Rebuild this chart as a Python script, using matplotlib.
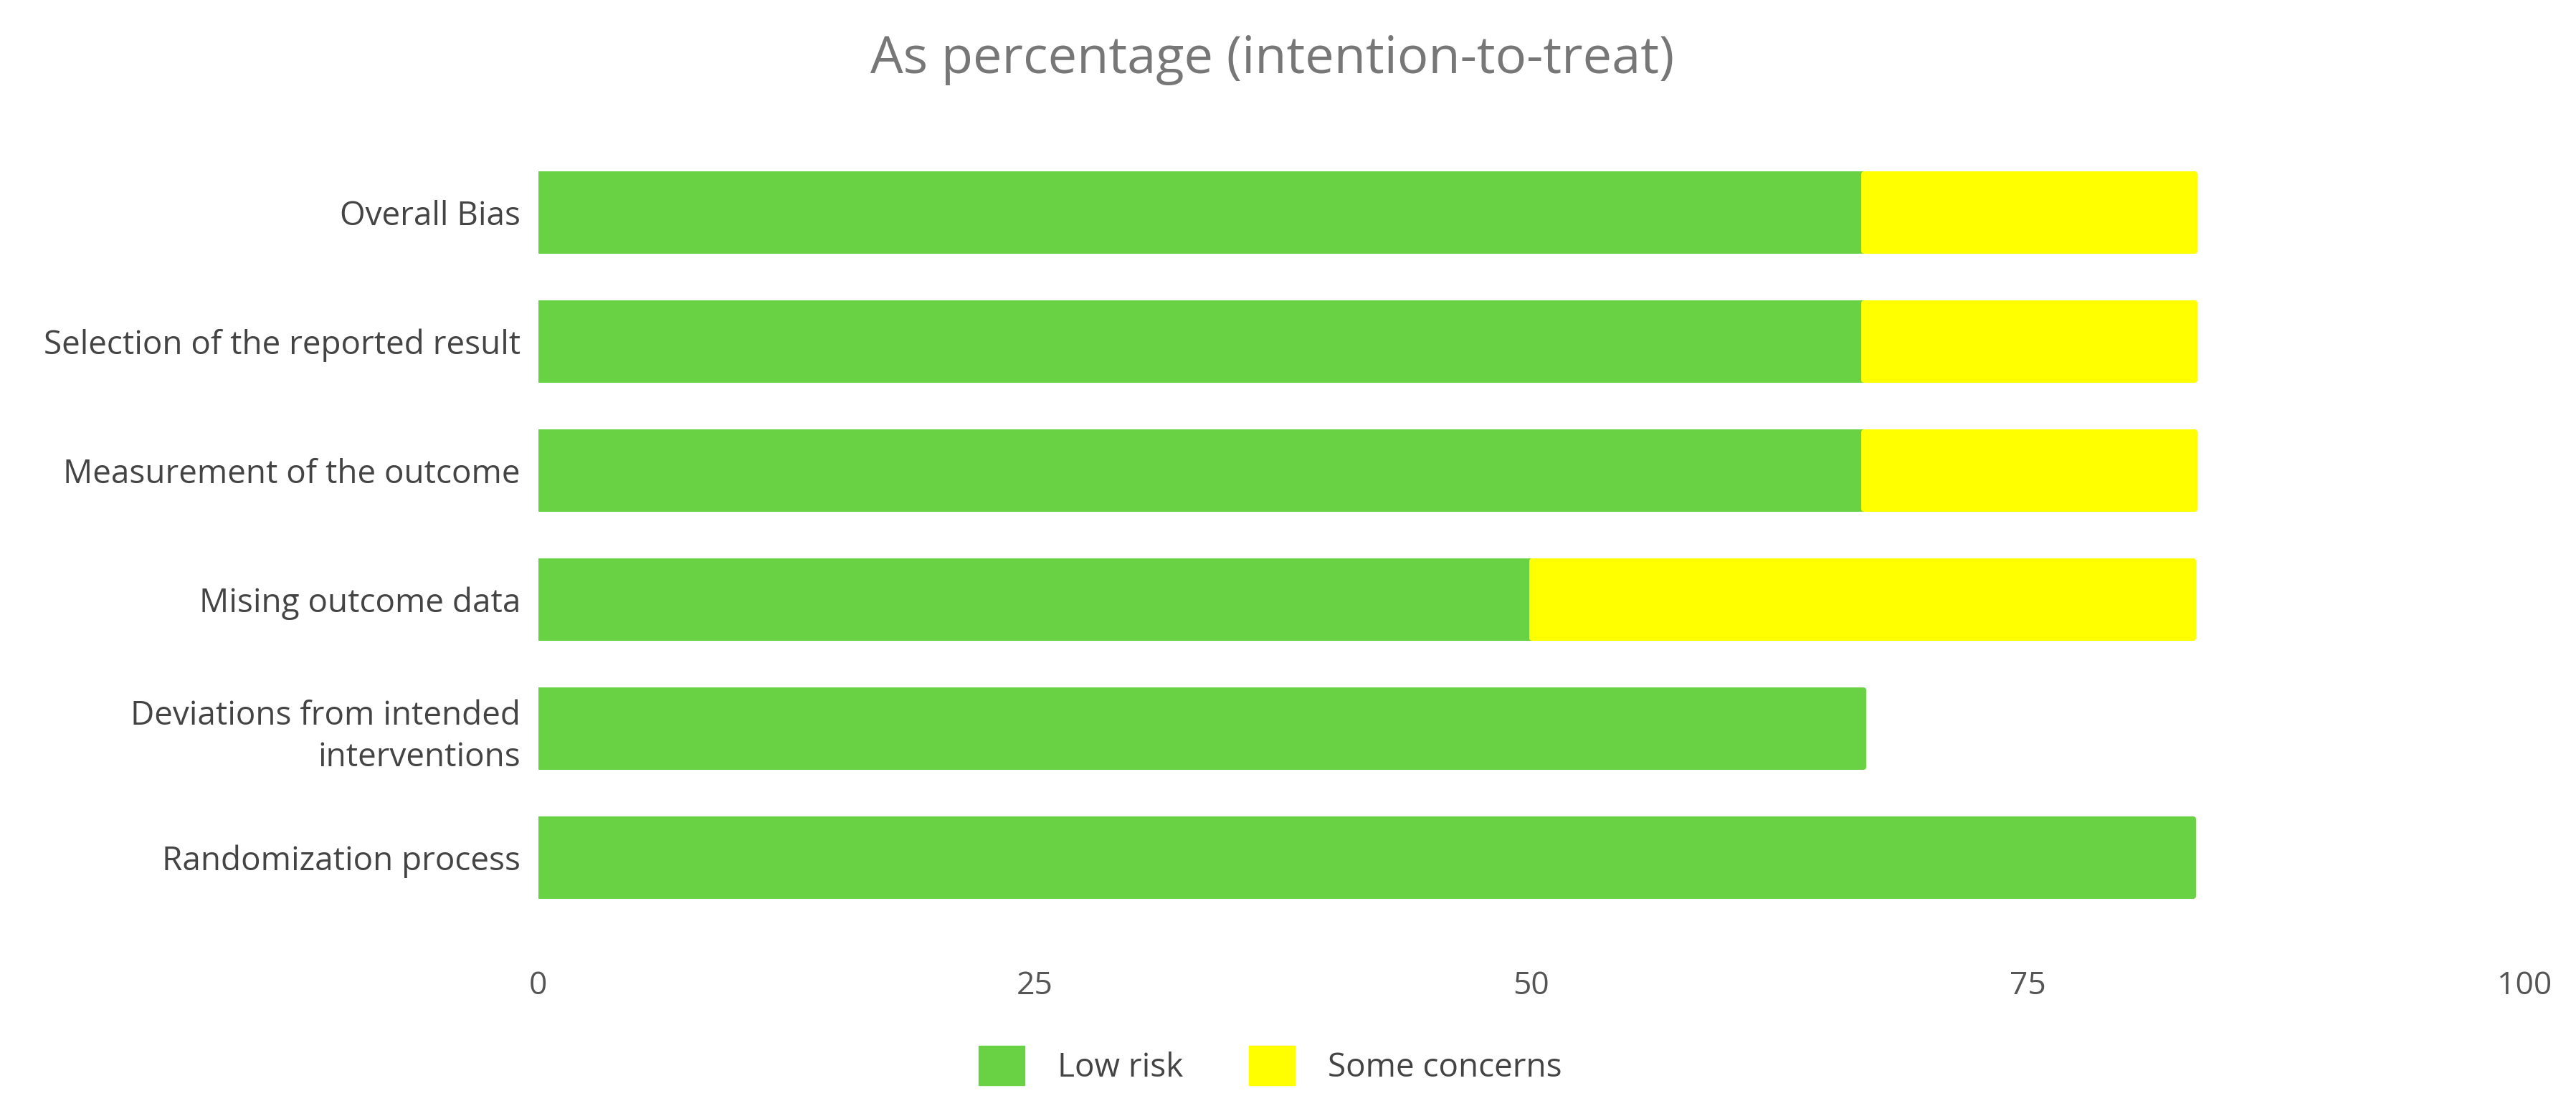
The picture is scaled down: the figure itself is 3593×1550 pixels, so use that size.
import matplotlib.pyplot as plt
from matplotlib.patches import Patch

# risk of bias domains, bottom to top
domains = ['Randomization process',
           'Deviations from intended\ninterventions',
           'Mising outcome data',
           'Measurement of the outcome',
           'Selection of the reported result',
           'Overall Bias']
low_risk = [83.3, 66.7, 50.0, 66.7, 66.7, 66.7]
some_concerns = [0.0, 0.0, 33.3, 16.7, 16.7, 16.7]
xticks = [0, 25, 50, 75, 100]

green = '#69D244'
yellow = '#FFFF00'

plt.rcParams['font.family'] = ['Open Sans', 'DejaVu Sans']

fig = plt.figure(figsize=(35.93, 15.5), dpi=100)
ax = fig.add_axes([0.209, 0.170, 0.771, 0.697])

y = range(len(domains))
ax.barh(y, low_risk, height=0.6, color=green, edgecolor=green,
        linewidth=5, joinstyle='round')
for i in y:
    if some_concerns[i] > 0:
        ax.barh(i, some_concerns[i], left=low_risk[i], height=0.6,
                color=yellow, edgecolor=yellow, linewidth=5, joinstyle='round')

ax.set_xlim(0, 100)
ax.set_ylim(-0.5, 5.5)
ax.set_xticks(xticks)
ax.set_xticklabels([str(t) for t in xticks], fontsize=32, color='#555555')
ax.set_yticks(list(y))
ax.set_yticklabels(domains, fontsize=33, color='#444444', linespacing=1.35)
ax.tick_params(length=0, axis='x', pad=48)
ax.tick_params(length=0, axis='y', pad=18)
for s in ax.spines.values():
    s.set_visible(False)

fig.text(0.494, 0.946, 'As percentage (intention-to-treat)', ha='center',
         va='center', fontsize=52, color='#777777')

handles = [Patch(facecolor=green, edgecolor=green, label='Low risk'),
           Patch(facecolor=yellow, edgecolor=yellow, label='Some concerns')]
fig.legend(handles=handles, loc='center', bbox_to_anchor=(0.493, 0.041),
           ncol=2, frameon=False, fontsize=33, handlelength=1.4,
           handleheight=1.45, handletextpad=1.0, columnspacing=2.0,
           labelcolor='#444444')

fig.savefig('out.png', dpi=100, facecolor='white')
